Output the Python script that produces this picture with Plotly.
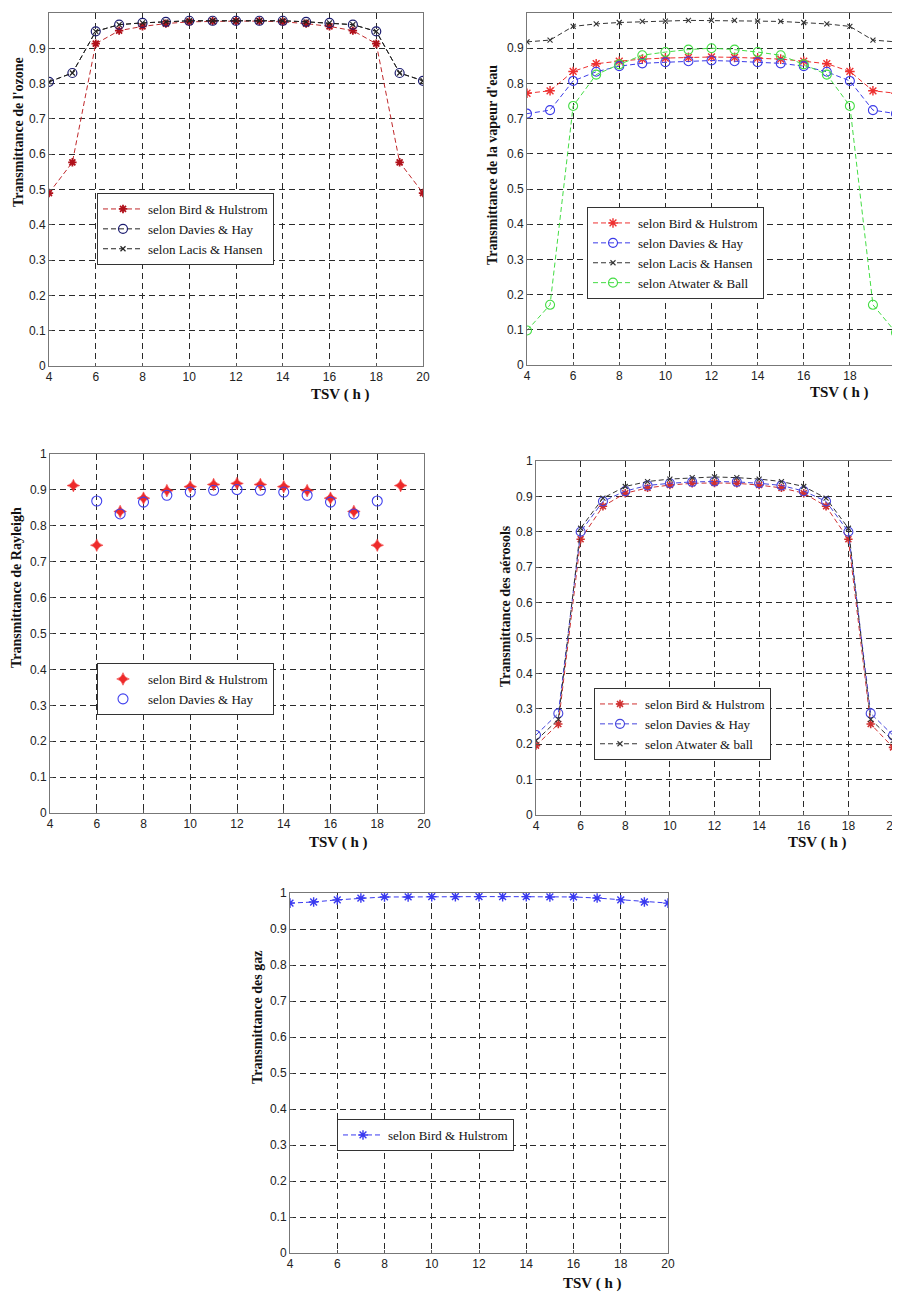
import plotly.graph_objects as go

# ---------------- data ----------------
hours = list(range(4, 21))
hours_ray_bird = list(range(5, 20))
hours_ray_davies = list(range(6, 19))

x_ticks = [4, 6, 8, 10, 12, 14, 16, 18, 20]
y_ticks = [0, 0.1, 0.2, 0.3, 0.4, 0.5, 0.6, 0.7, 0.8, 0.9, 1]
y_tick_text = ["0", "0.1", "0.2", "0.3", "0.4", "0.5", "0.6", "0.7", "0.8", "0.9", "1"]

# Ozone
ozone_bird = [0.49, 0.577, 0.913, 0.95, 0.962, 0.97, 0.975, 0.977, 0.977, 0.977, 0.975, 0.97, 0.962, 0.95, 0.913, 0.577, 0.49]
ozone_davies = [0.805, 0.83, 0.948, 0.967, 0.972, 0.975, 0.978, 0.978, 0.978, 0.978, 0.978, 0.975, 0.972, 0.967, 0.948, 0.83, 0.808]
ozone_lacis = [0.805, 0.83, 0.948, 0.967, 0.972, 0.975, 0.978, 0.978, 0.978, 0.978, 0.978, 0.975, 0.972, 0.967, 0.948, 0.83, 0.808]

# Water vapour
vap_bird = [0.772, 0.779, 0.834, 0.856, 0.863, 0.869, 0.872, 0.874, 0.875, 0.874, 0.872, 0.869, 0.863, 0.856, 0.834, 0.779, 0.772]
vap_davies = [0.714, 0.724, 0.807, 0.833, 0.849, 0.857, 0.86, 0.863, 0.865, 0.863, 0.86, 0.857, 0.849, 0.833, 0.807, 0.724, 0.714]
vap_lacis = [0.918, 0.923, 0.962, 0.969, 0.973, 0.976, 0.977, 0.979, 0.979, 0.979, 0.977, 0.976, 0.973, 0.969, 0.962, 0.923, 0.918]
vap_atwater = [0.098, 0.171, 0.736, 0.825, 0.854, 0.88, 0.889, 0.896, 0.9, 0.896, 0.889, 0.88, 0.854, 0.825, 0.736, 0.171, 0.092]

# Rayleigh
ray_bird = [0.912, 0.746, 0.84, 0.877, 0.898, 0.909, 0.915, 0.918, 0.915, 0.909, 0.898, 0.877, 0.84, 0.746, 0.912]
ray_davies = [0.869, 0.833, 0.866, 0.885, 0.894, 0.899, 0.901, 0.899, 0.894, 0.885, 0.866, 0.833, 0.869]

# Aerosols
aer_bird = [0.196, 0.257, 0.779, 0.872, 0.909, 0.924, 0.932, 0.937, 0.938, 0.937, 0.932, 0.924, 0.909, 0.872, 0.779, 0.257, 0.191]
aer_davies = [0.226, 0.287, 0.8, 0.886, 0.915, 0.931, 0.937, 0.941, 0.942, 0.941, 0.937, 0.931, 0.915, 0.886, 0.8, 0.287, 0.225]
aer_atwater = [0.21, 0.27, 0.81, 0.895, 0.928, 0.942, 0.949, 0.953, 0.955, 0.953, 0.949, 0.942, 0.928, 0.895, 0.81, 0.27, 0.21]

# Gases
gaz_bird = [0.972, 0.975, 0.981, 0.986, 0.989, 0.989, 0.99, 0.99, 0.99, 0.99, 0.99, 0.989, 0.989, 0.986, 0.981, 0.975, 0.972]

# ---------------- figure ----------------
# the page body has an 8px margin, so the figure is sized to end at the window edge
OFF = 8
W, H = 900 - OFF, 1294 - OFF
SERIF = "Liberation Serif, Times New Roman, serif"
SANS = "Liberation Sans, Arial, sans-serif"


def px_x(v):
    return (v - OFF) / W


def px_y(v):
    return 1 - (v - OFF) / H


fig = go.Figure()

DASH = "5px,3px"


def add_line(x, y, name, color, symbol, msize, axis, legend, mcolor=None, mwidth=1.5, mode="lines+markers"):
    fig.add_trace(go.Scatter(
        x=x, y=y, name=name, mode=mode,
        line=dict(color=color, width=1, dash=DASH),
        marker=dict(symbol=symbol, size=msize, color=mcolor or color,
                    line=dict(color=mcolor or color, width=mwidth)),
        xaxis="x" + axis, yaxis="y" + axis, legend=legend,
    ))


# Panel 1 - ozone
add_line(hours, ozone_bird, "selon Bird & Hulstrom", "#c0282b", "asterisk-open", 7, "", "legend", mcolor="#b0101a", mwidth=1.8)
add_line(hours, ozone_davies, "selon Davies & Hay", "#222222", "circle-open", 9, "", "legend", mcolor="#1c1c70", mwidth=1.2)
add_line(hours, ozone_lacis, "selon Lacis & Hansen", "#222222", "x-thin-open", 5, "", "legend", mcolor="#222222", mwidth=1.2)

# Panel 2 - water vapour
add_line(hours, vap_bird, "selon Bird & Hulstrom", "#ee3030", "asterisk-open", 8, "2", "legend2", mwidth=1.4)
add_line(hours, vap_davies, "selon Davies & Hay", "#3b3be8", "circle-open", 9, "2", "legend2", mwidth=1.1)
add_line(hours, vap_lacis, "selon Lacis & Hansen", "#333333", "x-thin-open", 5, "2", "legend2", mwidth=1.1)
add_line(hours, vap_atwater, "selon Atwater & Ball", "#44dd44", "circle-open", 9, "2", "legend2", mwidth=1.1)

# Panel 3 - Rayleigh
fig.add_trace(go.Scatter(x=hours_ray_bird, y=ray_bird, name="selon Bird & Hulstrom", mode="markers",
                         marker=dict(symbol="star-diamond", size=9, color="#ee2a2a",
                                     line=dict(color="#ee2a2a", width=0.5)),
                         xaxis="x3", yaxis="y3", legend="legend3"))
fig.add_trace(go.Scatter(x=hours_ray_davies, y=ray_davies, name="selon Davies & Hay", mode="markers",
                         marker=dict(symbol="circle-open", size=10, color="#4040ee",
                                     line=dict(color="#4040ee", width=1.1)),
                         xaxis="x3", yaxis="y3", legend="legend3"))

# Panel 4 - aerosols
add_line(hours, aer_bird, "selon Bird & Hulstrom", "#d03030", "asterisk-open", 7, "4", "legend4", mwidth=1.6)
add_line(hours, aer_davies, "selon Davies & Hay", "#4545dd", "circle-open", 9, "4", "legend4", mwidth=1.1)
add_line(hours, aer_atwater, "selon Atwater & ball", "#333333", "x-thin-open", 5, "4", "legend4", mwidth=1.1)

# Panel 5 - gases
add_line(hours, gaz_bird, "selon Bird & Hulstrom", "#3a3af0", "asterisk-open", 8, "5", "legend5", mwidth=1.4)

# ---------------- axes ----------------
panels = {
    "": (49, 423, 13, 366),
    "2": (527, 896, 13, 365),
    "3": (50, 424, 454, 813),
    "4": (536, 893, 461, 815),
    "5": (290, 668, 893, 1253),
}

grid_common = dict(
    showgrid=True, gridcolor="#2a2a2a", gridwidth=1, griddash="6px,4px",
    showline=True, linecolor="#777777", linewidth=1, mirror=True,
    ticks="inside", ticklen=3, tickcolor="#555555",
    tickfont=dict(family=SANS, size=12, color="#222222"),
    zeroline=False, automargin=False,
)

for key, (x0, x1, y0, y1) in panels.items():
    fig.update_layout(**{
        "xaxis" + key: dict(domain=[px_x(x0), px_x(x1)], range=[4, 20], tickvals=x_ticks,
                            anchor="y" + key, **grid_common),
        "yaxis" + key: dict(domain=[px_y(y1), px_y(y0)], range=[0, 1], tickvals=y_ticks,
                            ticktext=y_tick_text, anchor="x" + key, **grid_common),
    })

# ---------------- legends ----------------
legend_common = dict(
    bgcolor="white", bordercolor="#333333", borderwidth=1,
    font=dict(family=SERIF, size=13, color="#111111"),
    xanchor="left", yanchor="top", itemwidth=40, tracegroupgap=0,
)
fig.update_layout(
    legend=dict(x=px_x(97), y=px_y(193), **legend_common),
    legend2=dict(x=px_x(587), y=px_y(207), **legend_common),
    legend3=dict(x=px_x(97), y=px_y(663), **legend_common),
    legend4=dict(x=px_x(594), y=px_y(688), **legend_common),
    legend5=dict(x=px_x(337), y=px_y(1119), **legend_common),
)

# ---------------- axis titles ----------------
ytitles = [
    ("Transmittance de l'ozone", 18, 132),
    ("Transmittance de la vapeur d'eau", 492, 165),
    ("Transmittance de Rayleigh", 17, 588),
    ("Transmittance des aérosols", 505, 606),
    ("Transmittance des gaz", 257, 1017),
]
xtitles = [(340, 394), (839, 392), (338, 842), (817, 842), (592, 1283)]

annotations = []
for text, xp, yp in ytitles:
    annotations.append(dict(text="<b>" + text + "</b>", x=px_x(xp), y=px_y(yp), xref="paper", yref="paper",
                            showarrow=False, textangle=-90, xanchor="center", yanchor="middle",
                            font=dict(family=SERIF, size=14, color="#111111")))
for xp, yp in xtitles:
    annotations.append(dict(text="<b>TSV ( h )</b>", x=px_x(xp), y=px_y(yp), xref="paper", yref="paper",
                            showarrow=False, xanchor="center", yanchor="middle",
                            font=dict(family=SERIF, size=15, color="#111111")))

fig.update_layout(
    width=W, height=H,
    margin=dict(l=0, r=0, t=0, b=0, autoexpand=False),
    paper_bgcolor="white", plot_bgcolor="white",
    annotations=annotations,
    showlegend=True,
)

fig.write_html("out.html")
